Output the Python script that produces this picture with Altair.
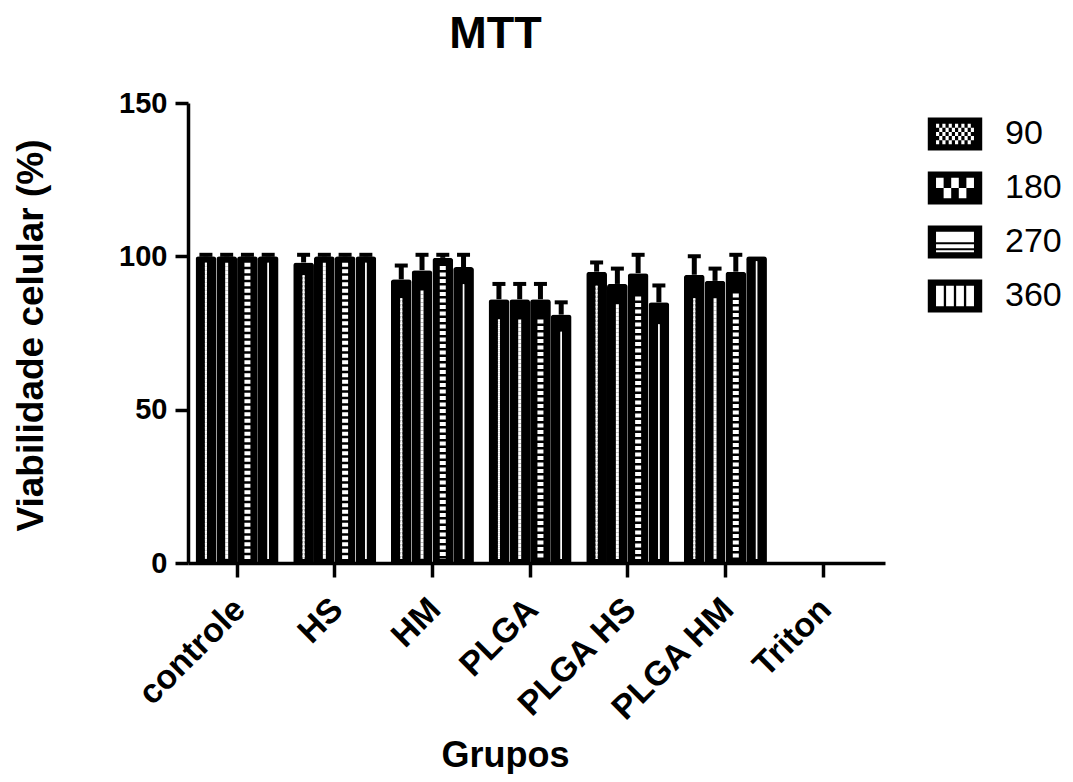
import altair as alt
import pandas as pd

groups = ["controle", "HS", "HM", "PLGA", "PLGA HS", "PLGA HM", "Triton"]
series = ["90", "180", "270", "360"]

mean_90 = [100, 98, 92.5, 86, 95, 94, None]
mean_180 = [100, 100, 95.5, 86, 91, 92, None]
mean_270 = [100, 100, 99.5, 86, 94.5, 95, None]
mean_360 = [100, 100, 96.5, 81, 85, 100, None]

err_90 = [0.5, 2.5, 4.5, 5, 3, 6, None]
err_180 = [0.5, 0.5, 5, 5, 5, 4, None]
err_270 = [0.5, 0.5, 1, 5, 6, 5.5, None]
err_360 = [0.5, 0.5, 4, 4, 5.5, 0, None]

means = {"90": mean_90, "180": mean_180, "270": mean_270, "360": mean_360}
errs = {"90": err_90, "180": err_180, "270": err_270, "360": err_360}

rows = []
for s in series:
    for g, m, e in zip(groups, means[s], errs[s]):
        rows.append({"group": g, "series": s, "value": m, "err": e})
df = pd.DataFrame(rows)

FONT = "Liberation Sans"

# ---------- legend symbol paths (unit square scaled by symbol size) ----------
def r_cw(x0, y0, x1, y1):
    return f"M{x0:.3f},{y0:.3f}H{x1:.3f}V{y1:.3f}H{x0:.3f}Z"

def r_ccw(x0, y0, x1, y1):
    return f"M{x0:.3f},{y0:.3f}V{y1:.3f}H{x1:.3f}V{y0:.3f}Z"

OUT = r_cw(-1.65, -1, 1.65, 1)
IX0, IX1, IY0, IY1 = -1.15, 1.15, -0.62, 0.62

def checker(nc, nr):
    cw = (IX1 - IX0) / nc
    ch = (IY1 - IY0) / nr
    parts = [OUT]
    for i in range(nc):
        for j in range(nr):
            if (i + j) % 2 == 0:
                parts.append(r_ccw(IX0 + i * cw, IY0 + j * ch, IX0 + (i + 1) * cw, IY0 + (j + 1) * ch))
    return "".join(parts)

p90 = checker(12, 5)
p180 = checker(5, 2)
p270 = OUT + r_ccw(IX0, -0.62, IX1, 0.02) + r_ccw(IX0, 0.14, IX1, 0.38) + r_ccw(IX0, 0.5, IX1, 0.62)
colw = (IX1 - IX0 - 3 * 0.14) / 4
p360 = OUT + "".join(
    r_ccw(IX0 + k * (colw + 0.14), IY0, IX0 + k * (colw + 0.14) + colw, IY1) for k in range(4)
)

shape_expr = (
    f"datum.value === '90' ? '{p90}' : "
    f"datum.value === '180' ? '{p180}' : "
    f"datum.value === '270' ? '{p270}' : '{p360}'"
)

legend = alt.Legend(
    title=None,
    orient="none",
    legendX=750,
    legendY=14,
    padding=0,
    symbolSize=1089,
    symbolStrokeWidth=0,
    symbolType=alt.ExprRef(expr=shape_expr),
    labelFont=FONT,
    labelFontSize=34,
    labelColor="black",
    labelOffset=33,
    rowPadding=20,
)

xscale = alt.Scale(domain=groups, paddingInner=0.15, paddingOuter=0.143, align=0.27)
xo_scale = alt.Scale(domain=series, paddingInner=0, paddingOuter=0)
yscale = alt.Scale(domain=[0, 150])

x_axis = alt.Axis(
    title="Grupos",
    titleFont=FONT,
    titleFontSize=36,
    titleFontWeight="bold",
    titleColor="black",
    titleX=317,
    titleY=203,
    titleBaseline="alphabetic",
    titleAlign="center",
    labelAngle=315,
    labelAlign="right",
    labelBaseline="middle",
    labelFont=FONT,
    labelFontSize=34,
    labelFontWeight="bold",
    labelColor="black",
    labelPadding=27,
    labelOffset=3,
    labelOverlap=False,
    tickSize=14,
    tickWidth=3.5,
    tickColor="black",
    domainWidth=3.5,
    domainColor="black",
    grid=False,
)

y_axis = alt.Axis(
    title="Viabilidade celular (%)",
    titleFont=FONT,
    titleFontSize=37,
    titleFontWeight="bold",
    titleColor="black",
    titleAngle=270,
    titleX=-146,
    titleY=232,
    titleBaseline="alphabetic",
    titleAlign="center",
    values=[0, 50, 100, 150],
    labelFont=FONT,
    labelFontSize=29,
    labelFontWeight="bold",
    labelColor="black",
    labelPadding=8,
    labelFlush=False,
    labelOverlap=False,
    tickSize=13,
    tickWidth=3.5,
    tickColor="black",
    domainWidth=3.5,
    domainColor="black",
    grid=False,
)

base = alt.Chart(df).transform_filter("isValid(datum.value)").transform_calculate(
    lo="datum.value - datum.err", hi="datum.value + datum.err"
)

X = alt.X("group:N", scale=xscale, axis=x_axis, sort=groups)
XO = alt.XOffset("series:N", scale=xo_scale, sort=series)

bars = base.mark_bar(cornerRadiusTopLeft=3, cornerRadiusTopRight=3).encode(
    x=X,
    xOffset=XO,
    y=alt.Y("value:Q", scale=yscale, axis=y_axis),
    fill=alt.Fill("series:N", scale=alt.Scale(domain=series, range=["black"] * 4), legend=legend, sort=series),
)

# white pattern strokes inside each bar: (series, pixel offset, width, dash, dash offset)
pattern_specs = [
    ("90", -2.0, 2.0, [2, 2], 0),
    ("90", 0.0, 2.0, [2, 2], 2),
    ("90", 2.0, 2.0, [2, 2], 0),
    ("180", -1.5, 3.0, [4, 4], 0),
    ("180", 1.5, 3.0, [4, 4], 4),
    ("270", 0.0, 6.0, [4, 2.5], 0),
    ("360", -2.0, 1.4, [1, 0], 0),
    ("360", 2.0, 1.4, [1, 0], 0),
]

pattern_layers = []
for s, dx, w, dash, off in pattern_specs:
    pattern_layers.append(
        base.transform_filter(f"datum.series === '{s}'")
        .mark_rule(
            color="white",
            strokeWidth=w,
            strokeDash=dash,
            strokeDashOffset=off,
            xOffset=dx,
            yOffset=5,
            y2Offset=-4,
        )
        .encode(
            x=X,
            xOffset=XO,
            y=alt.Y("lo:Q", scale=yscale, axis=y_axis),
            y2=alt.datum(0),
        )
    )

stems = base.transform_filter("datum.err > 0").mark_rule(color="black", strokeWidth=5).encode(
    x=X,
    xOffset=XO,
    y=alt.Y("value:Q", scale=yscale, axis=y_axis),
    y2="hi:Q",
)

caps = base.transform_filter("datum.err > 0").mark_tick(color="black", opacity=1, thickness=4, size=13).encode(
    x=X,
    xOffset=XO,
    y=alt.Y("hi:Q", scale=yscale, axis=y_axis),
)

chart = (
    alt.layer(bars, *pattern_layers, stems, caps)
    .properties(
        width=697,
        height=460,
        title=alt.TitleParams(
            "MTT",
            font=FONT,
            fontSize=45,
            fontWeight="bold",
            color="black",
            anchor="middle",
            dx=-41,
            dy=11,
            offset=7,
            baseline="alphabetic",
        ),
        autosize=alt.AutoSizeParams(type="none"),
        padding={"left": 180, "top": 95, "right": 180, "bottom": 211},
    )
    .configure(background="white")
    .configure_view(stroke=None)
)

chart.save("out.html", embed_options={"renderer": "svg", "actions": False})
